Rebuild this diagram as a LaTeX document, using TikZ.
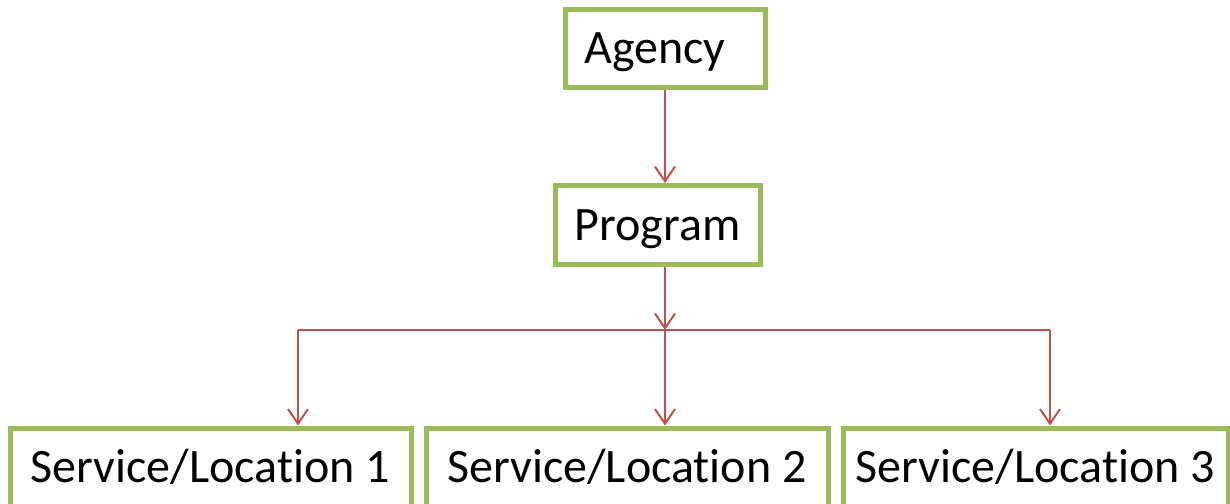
\documentclass[tikz,border=0pt]{standalone}
\usepackage{fontspec}
\setmainfont[Ligatures=NoCommon]{Carlito}
\usetikzlibrary{arrows.meta}
\definecolor{boxgreen}{HTML}{9BBB59}
\definecolor{linkred}{HTML}{C0504D}
\tikzset{
  unit/.style={draw=boxgreen, line width=3.75pt, fill=white, inner sep=0pt,
    font=\fontsize{36}{38}\selectfont, text height=23pt, text depth=0pt},
  link/.style={draw=linkred, line width=1.5pt},
  linkarrow/.style={link, -{Straight Barb[length=11pt,width=15pt,line width=1.5pt]}}
}
\begin{document}
\begin{tikzpicture}[x=0.75pt,y=0.75pt,yscale=-1]
\useasboundingbox (0,0) rectangle (1230,503);
\clip (0,0) rectangle (1230,503);

% Boxes
\node [unit, minimum width=150pt, minimum height=57.75pt] (agency) at (665,48.5) {Agency\kern15pt};
\node [unit, minimum width=153.75pt, minimum height=59.25pt] (program) at (657.5,225) {Program};
\node [unit, minimum width=300.75pt, minimum height=58.5pt] (loc1) at (210.5,467) {Service/Location 1};
\node [unit, minimum width=301.5pt, minimum height=58.5pt] (loc2) at (627,467) {Service/Location 2};
\node [unit, minimum width=288.75pt, minimum height=58.5pt] (loc3) at (1035.5,467) {Service/Location 3};

% Branch points
\coordinate (split) at (665,330);
\coordinate (left) at (298,330);
\coordinate (right) at (1050,330);

% Links
\draw [linkarrow] (agency.south) -- (agency.south |- program.north);
\draw [linkarrow] (agency.south |- program.south) -- (split);
\draw [link] (left) -- (right);
\draw [linkarrow] (left) -- (left |- loc1.north);
\draw [linkarrow] (split) -- (split |- loc2.north);
\draw [linkarrow] (right) -- (right |- loc3.north);

\end{tikzpicture}
\end{document}
